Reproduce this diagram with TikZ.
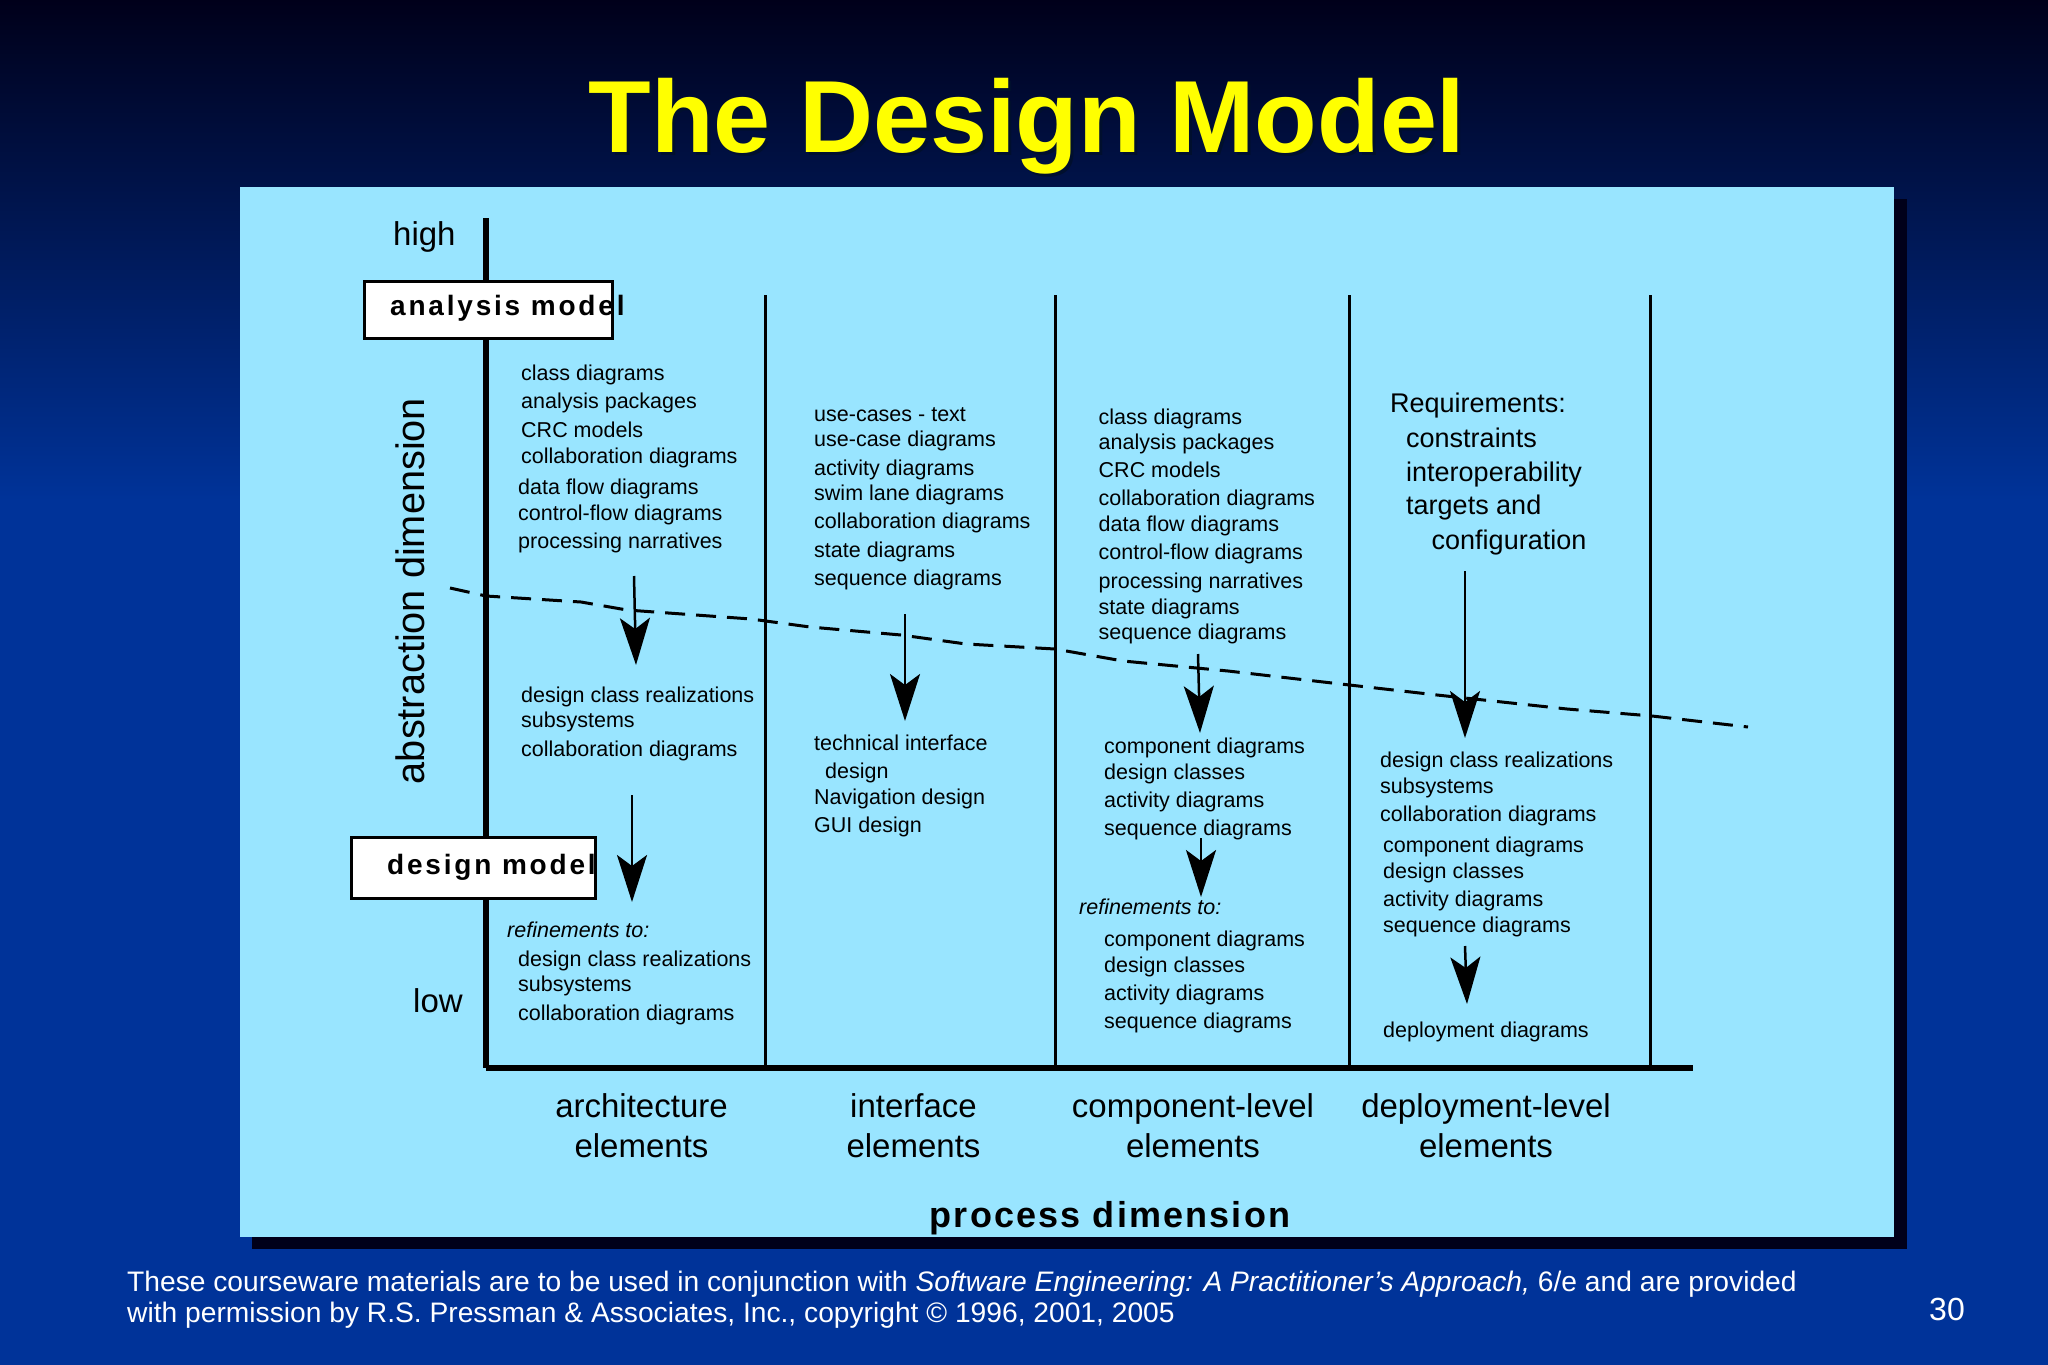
\documentclass[tikz,border=0pt]{standalone}
\usepackage{fontspec}
\setmainfont{Liberation Sans}
\newfontfamily\spacedfont[LetterSpace=10]{Liberation Sans}
\newfontfamily\processfont[LetterSpace=6]{Liberation Sans}
\usetikzlibrary{arrows.meta}

\definecolor{slideblue}{RGB}{0,51,153}
\definecolor{slidemid}{RGB}{0,33,103}
\definecolor{slidedark}{RGB}{0,0,26}
\definecolor{panelblue}{RGB}{153,229,255}
\definecolor{titleyellow}{RGB}{255,255,0}

\begin{document}
\begin{tikzpicture}[x=1pt,y=-1pt]

\tikzstyle{item}=[anchor=base west,inner sep=0pt,yshift=-0.4pt,font=\fontsize{21.5}{26}\selectfont]
\tikzstyle{bigitem}=[item,font=\fontsize{27}{32}\selectfont]
\tikzstyle{refined}=[item,font=\fontsize{21.5}{26}\itshape\selectfont]
\tikzstyle{axislabel}=[anchor=base,inner sep=0pt,yshift=-1pt,font=\fontsize{33}{38}\selectfont]
\tikzstyle{modelbox}=[draw=black,fill=white,line width=3pt]
\tikzstyle{modellabel}=[anchor=base west,inner sep=0pt,font=\fontsize{28}{32}\spacedfont\bfseries\selectfont]
\tikzstyle{axis}=[line width=5.5pt]
\tikzstyle{divider}=[line width=3pt]
\tikzstyle{boundary}=[line width=3pt,dash pattern=on 20pt off 11pt]
\tikzstyle{refine}=[line width=2.5pt,-{Stealth[length=47pt,width=30pt,inset=11pt]}]
\tikzstyle{footer}=[anchor=base west,inner sep=0pt,text=white,font=\fontsize{28.2}{31}\selectfont]

\useasboundingbox (0,0) rectangle (2048,1365);

% slide background
\shade[top color=slidedark,middle color=slidemid,bottom color=slideblue] (0,0) rectangle (2048,500);
\fill[slideblue] (0,500) rectangle (2048,1365);

\node[anchor=base,inner sep=0pt,text=black!70!slideblue,font=\fontsize{102.5}{110}\bfseries\selectfont]
	(titleshadow) at (1030,155) {The Design Model};
\node[anchor=base,inner sep=0pt,text=titleyellow,font=\fontsize{102.5}{110}\bfseries\selectfont]
	(title) at (1027,152) {The Design Model};

% panel
\fill[slidedark] (252,199) rectangle (1907,1249);
\fill[panelblue] (240,187) rectangle (1894,1237);

% axes
\coordinate (high) at (486,218);
\coordinate (origin) at (486,1068);
\coordinate (far) at (1693,1068);
\draw[axis](high)--(origin);
\draw[axis](origin)--(far);

\foreach \x [count=\i] in {765.5,1055,1349,1650}{
	\coordinate (top\i) at (\x,295);
	\coordinate (bot\i) at (\x,1068);
	\draw[divider](top\i)--(bot\i);
}

% dashed line
\coordinate (d1) at (450,588);
\coordinate (d2) at (1748,727);
\draw[boundary](d1)--(486,596)--(581,602)--(627,610)--(751,619)--(810,627)--(901,635)--(966,644)
	--(1055,649)--(1123,661)--(1228,671)--(1332,683)--(1437,695)--(1567,709)--(1652,716)--(d2);

% models
\node[modelbox,minimum width=248pt,minimum height=57pt,inner sep=0pt](analysisbox) at (488,309.5){};
\node[modellabel](analysis) at (390,315){analysis model};
\node[modelbox,minimum width=244pt,minimum height=61pt,inner sep=0pt](designbox) at (473,867.5){};
\node[modellabel](design) at (387,874.5){design model};

\node[axislabel,anchor=base west](hightext) at (393,244){high};
\node[axislabel,anchor=base west](lowtext) at (413,1011){low};
\node[anchor=base,inner sep=0pt,rotate=90,font=\fontsize{39.7}{44}\selectfont](abstraction) at (424,591){abstraction dimension};

% architecture column
\foreach \xx/\yy/\txt [count=\i] in {521/380/class diagrams,521/408.5/analysis packages,521/437/CRC models,
	521/463/collaboration diagrams,518/494/data flow diagrams,518/520/control-flow diagrams,
	518/548.5/processing narratives,521/702/design class realizations,521/727/subsystems,
	521/756/collaboration diagrams,518/966/design class realizations,518/991/subsystems,
	518/1020/collaboration diagrams}{
	\node[item](arch\i) at (\xx,\yy){\txt};
}
\node[refined](archrefine) at (507,937){refinements to:};

% interface column
\foreach \xx/\yy/\txt [count=\i] in {814/421/use-cases - text,814/446/use-case diagrams,814/475/activity diagrams,
	814/500/swim lane diagrams,814/528/collaboration diagrams,814/557/state diagrams,814/585/sequence diagrams,
	814/750/technical interface,825/778/design,814/804/Navigation design,814/832/GUI design}{
	\node[item](inter\i) at (\xx,\yy){\txt};
}

% component column
\foreach \xx/\yy/\txt [count=\i] in {1098.5/424/class diagrams,1098.5/449/analysis packages,1098.5/477.5/CRC models,
	1098.5/505.5/collaboration diagrams,1098.5/531/data flow diagrams,1098.5/559/control-flow diagrams,
	1098.5/588/processing narratives,1098.5/614/state diagrams,1098.5/639/sequence diagrams,
	1104/753/component diagrams,1104/779/design classes,1104/807/activity diagrams,1104/835/sequence diagrams,
	1104/946/component diagrams,1104/972/design classes,1104/1000/activity diagrams,1104/1028/sequence diagrams}{
	\node[item](comp\i) at (\xx,\yy){\txt};
}
\node[refined](comprefine) at (1079,914){refinements to:};

% deployment column
\foreach \xx/\yy/\txt [count=\i] in {1390/412.5/Requirements:,1406/447/constraints,1406/481/interoperability,
	1406/514/targets and,1431.5/549/configuration}{
	\node[bigitem](req\i) at (\xx,\yy){\txt};
}
\foreach \xx/\yy/\txt [count=\i] in {1380/767.5/design class realizations,1380/793/subsystems,1380/821/collaboration diagrams,
	1383/852.5/component diagrams,1383/878/design classes,1383/906/activity diagrams,1383/932/sequence diagrams,
	1383/1037.5/deployment diagrams}{
	\node[item](depl\i) at (\xx,\yy){\txt};
}

% arrows
\foreach \xa/\ya/\xb/\yb [count=\i] in {634/576/636/665,632/795/632/902,905/614/905/721,
	1198/654/1200/733,1201/838/1201/897,1465/571/1465/738,1465/946/1467/1004}{
	\coordinate (from\i) at (\xa,\ya);
	\coordinate (to\i) at (\xb,\yb);
	\draw[refine](from\i)--(to\i);
}

% bottom labels
\foreach \xx/\ta/\tb [count=\i] in {641.5/architecture/elements,913.5/interface/elements,
	1193/component-level/elements,1486/deployment-level/elements}{
	\node[axislabel](part\i) at (\xx,1116.5){\ta};
	\node[axislabel](elem\i) at (\xx,1156.5){\tb};
}
\node[anchor=base,inner sep=0pt,font=\fontsize{36}{40}\processfont\bfseries\selectfont](process) at (1110,1227){process dimension};

% footer
\node[footer](foot1) at (127,1291){These courseware materials are to be used in conjunction with \textit{Software Engineering: A Practitioner’s Approach,} 6/e and are provided};
\node[footer](foot2) at (127,1322){with permission by R.S. Pressman \& Associates, Inc., copyright © 1996, 2001, 2005};
\node[footer,font=\fontsize{32}{36}\selectfont](page) at (1929,1320){30};

\end{tikzpicture}
\end{document}
